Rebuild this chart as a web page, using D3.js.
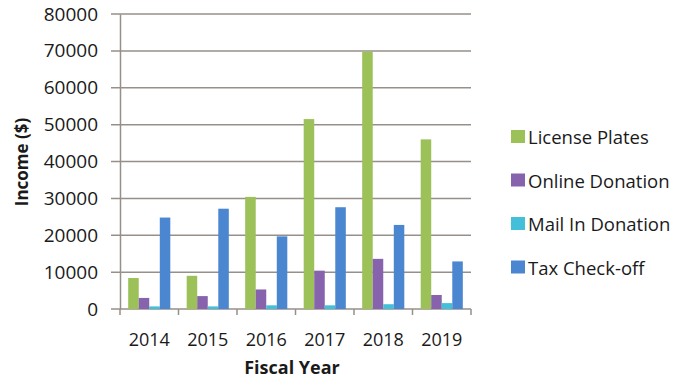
<!DOCTYPE html>
<html>
<head>
<meta charset="utf-8">
<script src="https://cdn.jsdelivr.net/npm/d3@7"></script>
<style>
  body { margin: 0; background: #fff; }
  svg text { font-family: "Open Sans", sans-serif; fill: #1a1a1a; }
</style>
</head>
<body>
<div class="chartContainer"></div>
<script>
// data
var years = ['2014', '2015', '2016', '2017', '2018', '2019']
var seriesNames = ['License Plates', 'Online Donation', 'Mail In Donation', 'Tax Check-off']
var licensePlates = [8400, 9000, 30400, 51500, 69800, 46000]
var onlineDonation = [3000, 3500, 5300, 10400, 13600, 3800]
var mailInDonation = [700, 700, 1000, 1000, 1300, 1600]
var taxCheckoff = [24800, 27200, 19700, 27600, 22800, 12900]
var yTicks = [0, 10000, 20000, 30000, 40000, 50000, 60000, 70000, 80000]
var colors = ['#9bc158', '#8763ad', '#44bfda', '#4b87d0']

var width = 694, height = 385
var margin = {top: 14, right: 223, bottom: 76, left: 120}

var table = years.map((y, i) => ({
    year: y,
    values: [licensePlates[i], onlineDonation[i], mailInDonation[i], taxCheckoff[i]]
}))

var x0 = d3.scaleBand()
    .domain(years)
    .range([margin.left, width - margin.right])
    .paddingInner(0.28)
    .paddingOuter(0.14)

var x1 = d3.scaleBand()
    .domain(d3.range(seriesNames.length))
    .range([0, x0.bandwidth()])

var y = d3.scaleLinear()
    .domain([0, 80000])
    .range([height - margin.bottom, margin.top])

var svg = d3.select('.chartContainer').append('svg')
    .attr('width', width)
    .attr('height', height)

var grid = '#978f8a'

// gridlines (extend a little left of the axis like the tick marks)
svg.append('g')
    .selectAll('line')
    .data(yTicks)
    .enter().append('line')
    .attr('x1', margin.left - 9)
    .attr('x2', width - margin.right)
    .attr('y1', d => y(d))
    .attr('y2', d => y(d))
    .attr('stroke', grid)
    .attr('stroke-width', 1.5)

// y axis labels
svg.append('g')
    .attr('transform', 'translate(' + margin.left + ',0)')
    .call(d3.axisLeft(y).tickValues(yTicks).tickFormat(d3.format('d')).tickSize(0).tickPadding(22))
    .call(g => g.select('.domain').attr('stroke', grid).attr('stroke-width', 1.5))
    .call(g => g.selectAll('text')
        .style('font-family', '"Open Sans", sans-serif')
        .style('font-size', '19px')
        .attr('fill', '#1a1a1a'))

// x axis with boundary ticks
var xAxis = svg.append('g')
    .attr('transform', 'translate(0,' + y(0) + ')')

var edges = d3.range(years.length + 1).map(i => margin.left + (width - margin.right - margin.left) * i / years.length)
xAxis.selectAll('.edge')
    .data(edges)
    .enter().append('line')
    .attr('x1', d => d).attr('x2', d => d)
    .attr('y1', 0).attr('y2', 6)
    .attr('stroke', grid).attr('stroke-width', 1.5)

xAxis.selectAll('.lbl')
    .data(years)
    .enter().append('text')
    .attr('x', d => x0(d) + x0.bandwidth() / 2)
    .attr('y', 37)
    .attr('text-anchor', 'middle')
    .style('font-size', '18px')
    .text(d => d)

// bars
var groups = svg.selectAll('.yr')
    .data(table)
    .enter().append('g')
    .attr('transform', d => 'translate(' + x0(d.year) + ',0)')

groups.selectAll('rect')
    .data(d => d.values)
    .enter().append('rect')
    .attr('x', (d, i) => x1(i))
    .attr('width', x1.bandwidth())
    .attr('y', d => y(d))
    .attr('height', d => y(0) - y(d))
    .attr('fill', (d, i) => colors[i])

// axis titles
svg.append('text')
    .attr('x', 292)
    .attr('y', 374)
    .attr('text-anchor', 'middle')
    .style('font-size', '18px')
    .style('font-weight', 'bold')
    .text('Fiscal Year')

svg.append('text')
    .attr('transform', 'translate(28,162) rotate(-90)')
    .attr('text-anchor', 'middle')
    .style('font-size', '17px')
    .style('font-weight', 'bold')
    .text('Income ($)')

// legend
var legend = svg.append('g')
    .attr('transform', 'translate(511,138)')

var items = legend.selectAll('g')
    .data(seriesNames)
    .enter().append('g')
    .attr('transform', (d, i) => 'translate(0,' + (i * 43.5) + ')')

items.append('rect')
    .attr('x', 0).attr('y', -8)
    .attr('width', 14).attr('height', 13)
    .attr('fill', (d, i) => colors[i])

items.append('text')
    .attr('x', 17)
    .attr('y', 6)
    .style('font-size', '18.5px')
    .text(d => d)
</script>
</body>
</html>
